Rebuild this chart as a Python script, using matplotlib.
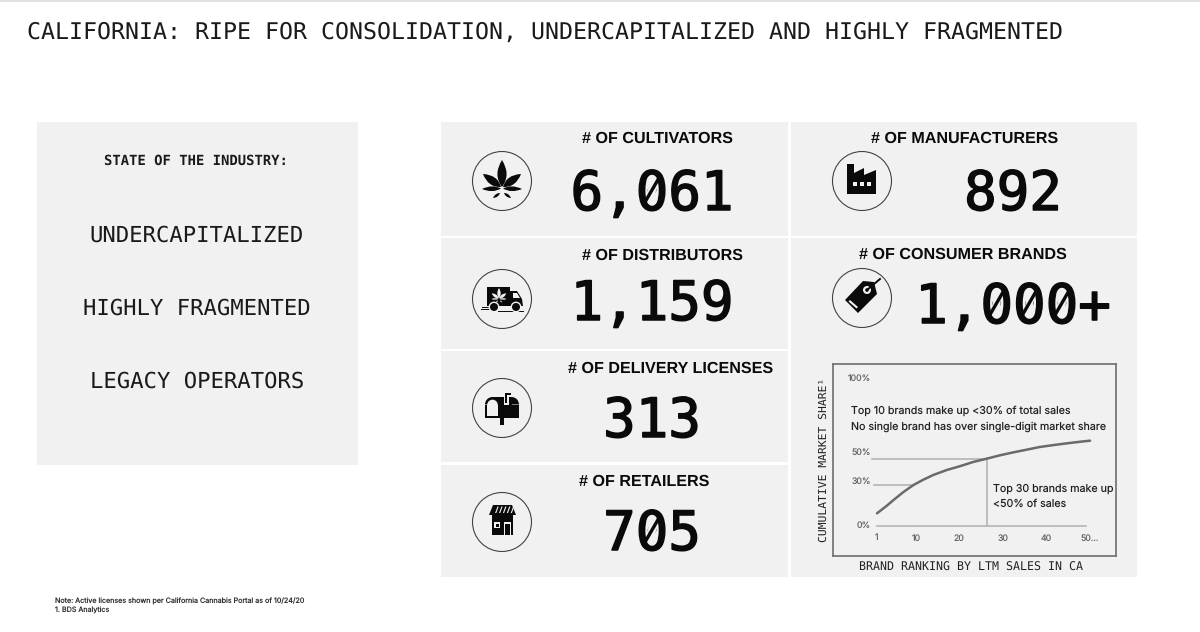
import matplotlib
matplotlib.use('Agg')
import matplotlib.pyplot as plt
import matplotlib.patheffects as pe
from matplotlib.patches import Rectangle, Circle, Polygon, PathPatch, Wedge, Ellipse
from matplotlib.path import Path

plt.rcParams['text.hinting'] = 'none'

title = 'CALIFORNIA: RIPE FOR CONSOLIDATION, UNDERCAPITALIZED AND HIGHLY FRAGMENTED'
state_items = ['UNDERCAPITALIZED', 'HIGHLY FRAGMENTED', 'LEGACY OPERATORS']

metric_names = ['# OF CULTIVATORS', '# OF DISTRIBUTORS', '# OF DELIVERY LICENSES', '# OF RETAILERS',
                '# OF MANUFACTURERS', '# OF CONSUMER BRANDS']
metric_values = ['6,061', '1,159', '313', '705', '892', '1,000+']

# brand ranking chart
rank = [1, 3.2, 4.8, 7.1, 9.4, 11.7, 14, 17.1, 20.2, 23.2, 26.5, 29.4, 32.5, 35.6, 38.6, 41.7, 44.8, 47.9, 50.2]
share = [9.1, 14.6, 19, 25, 30.2, 34.2, 37.7, 41.4, 44.3, 47.4, 50, 52.4, 54.6, 56.6, 58.6, 60, 61.3, 62.5, 63.3]
rank_at_30 = 9.4
rank_at_50 = 26.5
rank_ticks = [1, 10, 20, 30, 40, 50]
rank_labels = ['1', '10', '20', '30', '40', '50...']
share_ticks = [0, 30, 50, 100]
share_labels = ['0%', '30%', '50%', '100%']

PANEL = '#f1f1f1'
INK = '#0a0a0a'
MONO = 'DejaVu Sans Mono'
HEAD = 'Liberation Sans'
BIG = 'DejaVu Sans Mono'
BIG_SIZE = 39

fig = plt.figure(figsize=(12, 6.32), dpi=100, facecolor='white')
ax = fig.add_axes([0, 0, 1, 1])
ax.set_xlim(0, 1200)
ax.set_ylim(632, 0)
ax.axis('off')


def panel(x0, y0, x1, y1, color=PANEL):
    ax.add_patch(Rectangle((x0, y0), x1 - x0, y1 - y0, fc=color, ec='none'))


def poly(cx, cy, pts, color=INK, z=4):
    ax.add_patch(Polygon([(cx + a, cy + b) for a, b in pts], closed=True, fc=color, ec='none', zorder=z))


def leaf(cx, cy, base, tip, bulge, color=INK, z=4):
    # pointed leaf from base to tip, bulge = half width
    bx, by = cx + base[0], cy + base[1]
    tx, ty = cx + tip[0], cy + tip[1]
    dx, dy = tx - bx, ty - by
    ln = (dx * dx + dy * dy) ** 0.5
    nx, ny = -dy / ln * bulge * 2, dx / ln * bulge * 2
    mx, my = bx + dx * 0.45, by + dy * 0.45
    verts = [(bx, by), (mx + nx, my + ny), (tx, ty), (mx - nx, my - ny), (bx, by)]
    codes = [Path.MOVETO, Path.CURVE3, Path.CURVE3, Path.CURVE3, Path.CURVE3]
    ax.add_patch(PathPatch(Path(verts, codes), fc=color, ec='none', zorder=z))


def weed(cx, cy, s=1.0, color=INK, z=4):
    leaf(cx, cy, (0, 6 * s), (0, -21 * s), 4.6 * s, color, z)
    leaf(cx, cy, (-1 * s, 6 * s), (-19 * s, -7 * s), 4.0 * s, color, z)
    leaf(cx, cy, (1 * s, 6 * s), (19 * s, -7 * s), 4.0 * s, color, z)
    leaf(cx, cy, (-1 * s, 7.5 * s), (-20 * s, 8 * s), 2.4 * s, color, z)
    leaf(cx, cy, (1 * s, 7.5 * s), (20 * s, 8 * s), 2.4 * s, color, z)
    leaf(cx, cy, (-2 * s, 12 * s), (-9 * s, 17 * s), 1.4 * s, color, z)
    leaf(cx, cy, (2 * s, 12 * s), (9 * s, 17 * s), 1.4 * s, color, z)


def truck(cx, cy):
    poly(cx, cy, [(-15, -12), (8, -12), (8, 7), (-15, 7)])
    poly(cx, cy, [(8, -8), (15, -8), (20, 0), (21, 7), (8, 7)])
    poly(cx, cy, [(11, -6), (15, -6), (18, -1), (11, -1)], PANEL, 5)
    weed(cx - 3, cy - 3, 0.38, PANEL, 5)
    for wx in (-8, 14):
        ax.add_patch(Circle((cx + wx, cy + 8), 5.4, fc=PANEL, ec='none', zorder=5))
        ax.add_patch(Circle((cx + wx, cy + 8), 4, fc=INK, ec='none', zorder=6))
    ax.plot([cx - 21, cx - 12], [cy + 10, cy + 10], color=INK, lw=0.7, zorder=4)
    ax.plot([cx - 20, cx - 14], [cy + 8, cy + 8], color=INK, lw=0.7, zorder=4)
    ax.plot([cx - 4, cx + 21], [cy + 12, cy + 12], color=INK, lw=0.7, zorder=4)


def mailbox(cx, cy):
    # solid outer shape: arch on the left, rounded top right
    ax.add_patch(Wedge((cx - 9.5, cy - 3.5), 7.5, 180, 360, fc=INK, ec='none', zorder=4))
    ax.add_patch(Wedge((cx + 9.5, cy - 3.5), 7.5, 270, 360, fc=INK, ec='none', zorder=4))
    poly(cx, cy, [(-9.5, -11), (9.5, -11), (9.5, -3.5), (17, -3.5), (17, 10), (2, 10), (2, 17), (-2, 17),
                  (-2, 10), (-17, 10), (-17, -3.5), (-9.5, -3.5)])
    # door opening
    ax.add_patch(Wedge((cx - 9.5, cy - 3), 5.3, 180, 360, fc=PANEL, ec='none', zorder=5))
    poly(cx, cy, [(-14.8, -3), (-4.2, -3), (-4.2, 8), (-14.8, 8)], PANEL, 5)
    # flag with a light gap around it
    poly(cx, cy, [(1.5, -3), (6.5, -3), (6.5, -11), (10, -11), (10, -17), (1.5, -17)], PANEL, 5)
    poly(cx, cy, [(3, -5), (5, -5), (5, -13), (8.5, -13), (8.5, -15.5), (3, -15.5)], INK, 6)


def store(cx, cy):
    poly(cx, cy, [(-9, -17), (10, -17), (14, -7), (-13, -7)])
    for i in range(5):
        x = -4.5 + i * 3.9
        poly(cx, cy, [(x, -15.5), (x + 1.2, -15.5), (x - 1.2, -9), (x - 2.4, -9)], PANEL, 5)
    poly(cx, cy, [(-10.5, -7), (11, -7), (11, 13), (-10.5, 13)])
    poly(cx, cy, [(-8, 0), (-2, 0), (-2, 6), (-8, 6)], PANEL, 5)
    poly(cx, cy, [(-6.5, 1.5), (-3.5, 1.5), (-3.5, 4.5), (-6.5, 4.5)], INK, 6)
    poly(cx, cy, [(1.5, 0), (9, 0), (9, 13), (1.5, 13)], PANEL, 5)
    poly(cx, cy, [(3, 1.5), (7.5, 1.5), (7.5, 13), (3, 13)], INK, 6)


def factory(cx, cy):
    poly(cx, cy, [(-15, 13), (-15, -17), (-8, -17), (-8, -8), (2, -13), (2, -6), (14, -11), (14, 13)])
    for dx in (-7, 0, 7):
        poly(cx, cy, [(dx - 2, 1), (dx + 1.5, 1), (dx + 1.5, 4.5), (dx - 2, 4.5)], PANEL, 5)


def tag(cx, cy):
    poly(cx, cy, [(-17, 2), (-4, 15), (15, -4), (12, -16), (1, -17)])
    ax.add_patch(Circle((cx + 5, cy - 8), 4, fc=PANEL, ec='none', zorder=5))
    ax.add_patch(Circle((cx + 5, cy - 8), 1.8, fc=INK, ec='none', zorder=6))
    ax.plot([cx + 5, cx + 18], [cy - 8, cy - 19], color=INK, lw=1.4, zorder=6)
    poly(cx, cy, [(-12, 2), (-4, 9), (-5.5, 10.5), (-13.5, 3.5)], PANEL, 5)


def big_number(x, base, val):
    # the deck's mono font has a slashed zero, DejaVu has a dotted one
    ax.text(x, base, val, family=BIG, fontsize=BIG_SIZE, color=INK, ha='center', va='baseline', zorder=4,
            path_effects=[pe.withStroke(linewidth=1.1, foreground=INK)])
    w = 0.602 * BIG_SIZE * 100 / 72
    left = x - w * len(val) / 2
    yc = base - 20
    for i, ch in enumerate(val):
        if ch == '0':
            zx = left + (i + 0.5) * w
            ax.add_patch(Ellipse((zx, yc), 8, 15, fc=PANEL, ec='none', zorder=5))
            ax.plot([zx - 7.5, zx + 7.5], [yc + 13, yc - 13], color=INK, lw=2.4, zorder=6,
                    solid_capstyle='butt')


# thin rule along the top edge
panel(0, 0, 1200, 1.5, '#e2e2e2')

# panels
panel(37, 122, 358, 465)
panel(441, 122, 788, 236)
panel(441, 238, 788, 349)
panel(441, 351, 788, 462)
panel(441, 465, 788, 577)
panel(791, 122, 1137, 236)
panel(791, 238, 1137, 577)

ax.text(27, 32.5, title, family=MONO, fontsize=16.75, color='#1a1a1a', ha='left', va='center')

# left panel text
ax.text(196, 161, 'STATE OF THE INDUSTRY:', family=MONO, fontsize=10, fontweight='bold', color='#1a1a1a',
        ha='center', va='center')
for txt, y in zip(state_items, [236, 309, 382]):
    ax.text(197, y, txt, family=MONO, fontsize=16, color='#1a1a1a', ha='center', va='center')

ax.text(55, 601, 'Note: Active licenses shown per California Cannabis Portal as of 10/24/20', family='Inter',
        fontsize=5.15, color='#333333', ha='left', va='center')
ax.text(55, 610, '1. BDS Analytics', family='Inter', fontsize=5.15, color='#333333', ha='left', va='center')

# metric headers and numbers
head_pos = [(657, 139), (662, 256), (671, 369), (644, 482), (965, 139), (963, 255)]
value_pos = [(652, 210), (652, 320), (652, 437), (652, 550), (1013, 210), (1013, 323)]
for name, val, hp, vp in zip(metric_names, metric_values, head_pos, value_pos):
    ax.text(hp[0], hp[1], name, family=HEAD, fontsize=11.6, fontweight='bold', color=INK, ha='center', va='center')
    big_number(vp[0], vp[1], val)

# icons
circles = [(502, 181), (502, 299), (502, 408), (502, 522), (862, 181), (862, 298)]
drawers = [weed, truck, mailbox, store, factory, tag]
for (cx, cy), draw in zip(circles, drawers):
    ax.add_patch(Circle((cx, cy), 29.5, fc='none', ec='#444444', lw=0.8, zorder=3))
    draw(cx, cy)

# inset chart, box is 833-1116 x 364-556 in pixels
box = (833, 364, 1116, 556)
cax = fig.add_axes([box[0] / 1200, 1 - box[3] / 632, (box[2] - box[0]) / 1200, (box[3] - box[1]) / 632])
cax.set_facecolor(PANEL)
px_rank = 4.33
px_share = 1.34
cax.set_xlim(10 + (box[0] - 916) / px_rank, 10 + (box[2] - 916) / px_rank)
cax.set_ylim((525.5 - box[3]) / px_share, (525.5 - box[1]) / px_share)
cax.set_xticks([])
cax.set_yticks([])
for sp in cax.spines.values():
    sp.set_color('#6e6e6e')
    sp.set_linewidth(1.2)

cax.plot([1, 49.2], [0, 0], color='#b4b4b4', lw=1.2)
cax.plot([-0.2, rank_at_50], [50, 50], color='#b4b4b4', lw=1.2)
cax.plot([0.2, rank_at_30], [30, 30], color='#b4b4b4', lw=1.2)
cax.plot([rank_at_50, rank_at_50], [0, 50], color='#b4b4b4', lw=1.2)
cax.plot(rank, share, color='#6a6a6a', lw=1.8, solid_capstyle='round')

for r, lab in zip(rank_ticks, rank_labels):
    cax.annotate(lab, (r, 0), xytext=(0, -9), textcoords='offset points', family='Inter', fontsize=6.3,
                 color='#666666', ha='center', va='center')
for s, lab, off in zip(share_ticks, share_labels, [0, 2.5, 4, 9.5]):
    cax.annotate(lab, (-0.4, s), xytext=(0, off), textcoords='offset points', family='Inter', fontsize=6.3,
                 color='#666666', ha='right', va='center')

cax.text(0.063, 0.755, 'Top 10 brands make up <30% of total sales', transform=cax.transAxes, family='Inter',
         fontsize=7.7, color='#222222', ha='left', va='center')
cax.text(0.063, 0.675, 'No single brand has over single-digit market share', transform=cax.transAxes, family='Inter',
         fontsize=7.7, color='#222222', ha='left', va='center')
cax.text(0.565, 0.35, 'Top 30 brands make up', transform=cax.transAxes, family='Inter', fontsize=7.7,
         color='#222222', ha='left', va='center')
cax.text(0.565, 0.27, '<50% of sales', transform=cax.transAxes, family='Inter', fontsize=7.7,
         color='#222222', ha='left', va='center')

ax.text(971, 567, 'BRAND RANKING BY LTM SALES IN CA', family=MONO, fontsize=8.37, color='#222222',
        ha='center', va='center')
ax.text(824, 460, 'CUMULATIVE MARKET SHARE\u00b9', family=MONO, fontsize=8.2, color='#222222', rotation=90,
        ha='center', va='center')

fig.savefig('out.png', dpi=100, facecolor='white')
